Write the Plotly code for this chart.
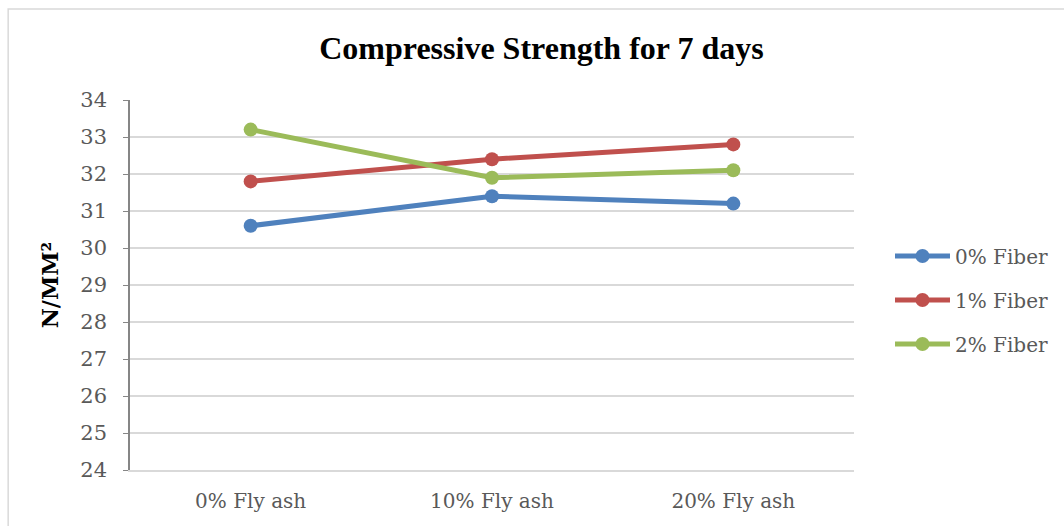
import plotly.graph_objects as go

categories = ["0% Fly ash", "10% Fly ash", "20% Fly ash"]
fiber_0 = [30.6, 31.4, 31.2]
fiber_1 = [31.8, 32.4, 32.8]
fiber_2 = [33.2, 31.9, 32.1]
series_names = ["0% Fiber", "1% Fiber", "2% Fiber"]
colors = ["#4F81BD", "#C0504D", "#9BBB59"]

fig = go.Figure()
for name, vals, col in zip(series_names, [fiber_0, fiber_1, fiber_2], colors):
    fig.add_trace(go.Scatter(
        x=categories, y=vals, name=name, mode="lines+markers",
        legendgroup=name,
        line=dict(color=col, width=5),
        marker=dict(color=col, size=14),
    ))

W, H = 1064, 526
L, R, T, B = 130, 209, 100, 56
pw, ph = W - L - R, H - T - B

fig.update_layout(
    width=W, height=H,
    margin=dict(l=L, r=R, t=T, b=B),
    paper_bgcolor="white", plot_bgcolor="white",
    title=dict(
        text="<b>Compressive Strength for 7 days</b>",
        x=(542 - L) / pw, xref="paper", xanchor="center",
        y=1 - 48 / H, yref="container", yanchor="middle",
        font=dict(family="Liberation Serif", size=32, color="black"),
    ),
    showlegend=True,
    legend=dict(
        x=(890 - L) / pw, xanchor="left",
        y=(H - B - 300) / ph, yanchor="middle",
        font=dict(family="DejaVu Serif", size=20, color="#595959"),
        tracegroupgap=15, itemwidth=55,
        bgcolor="rgba(0,0,0,0)",
    ),
    xaxis=dict(
        type="category", range=[-0.5, 2.5],
        showgrid=False, showline=True, linecolor="#D9D9D9", linewidth=1.5,
        ticks="", tickfont=dict(family="DejaVu Serif", size=20, color="#595959"),
        ticklabelstandoff=12,
    ),
    yaxis=dict(
        range=[24, 34], dtick=1, tick0=24,
        showgrid=True, gridcolor="#D9D9D9", gridwidth=1.5,
        showline=True, linecolor="#868686", linewidth=1.5,
        ticks="outside", ticklen=5, tickcolor="#868686",
        tickfont=dict(family="DejaVu Serif", size=21, color="#595959"),
        ticklabelstandoff=12,
        zeroline=False,
        title=dict(text="<b>N/MM²</b>", standoff=16,
                   font=dict(family="DejaVu Serif", size=22, color="black")),
    ),
)

# outer chart frame
fig.add_shape(
    type="rect", xref="paper", yref="paper",
    x0=(8 - L) / pw, x1=(W + 10 - L) / pw,
    y0=(H - B - (H + 10)) / ph, y1=(H - B - 9) / ph,
    line=dict(color="#D9D9D9", width=1.5), fillcolor="rgba(0,0,0,0)",
    layer="below",
)

fig.write_html("out.html")
